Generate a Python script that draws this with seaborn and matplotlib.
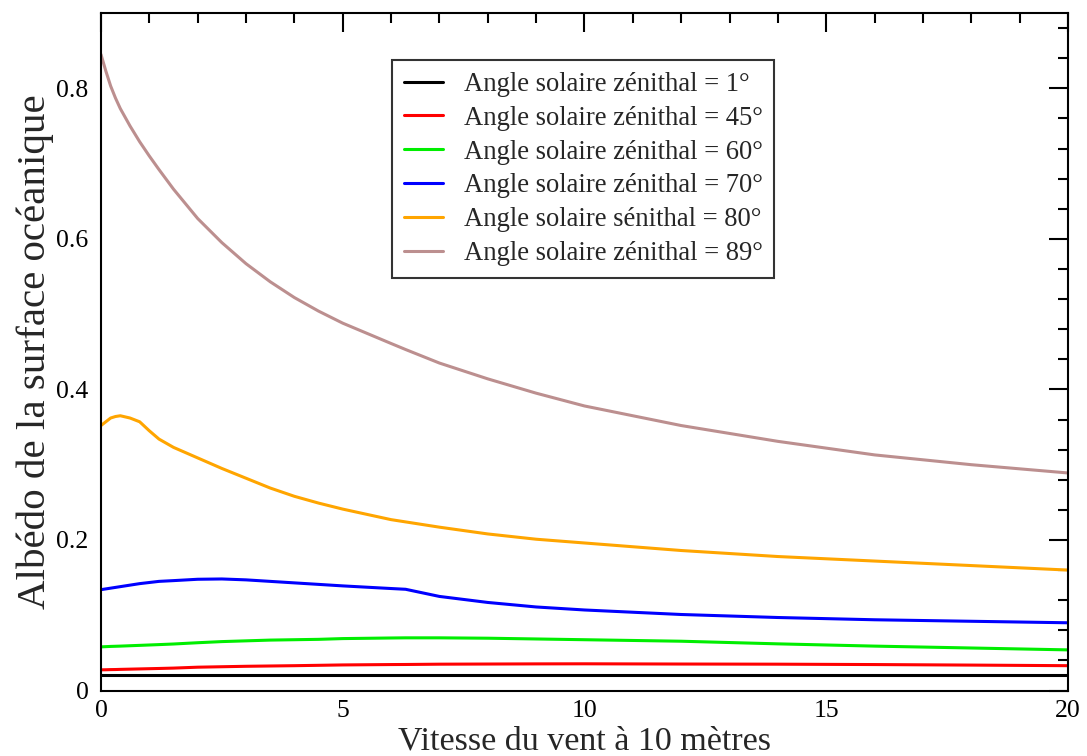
import numpy as np
import pandas as pd
import matplotlib
matplotlib.use("Agg")
import matplotlib.pyplot as plt
from matplotlib.ticker import MultipleLocator, FuncFormatter
import seaborn as sns

# ---- data ----
wind = [0, 0.1, 0.2, 0.3, 0.4, 0.6, 0.8, 1.0, 1.2, 1.5, 2, 2.5, 3, 3.5, 4, 4.5, 5, 6, 6.3, 7, 8, 9, 10,
        12, 14, 16, 18, 20]

alb_1 = [0.021] * len(wind)
alb_45 = [0.0275, 0.0276, 0.0278, 0.0279, 0.0281, 0.0284, 0.0287, 0.029, 0.0293, 0.0298, 0.031, 0.0316,
          0.0322, 0.0326, 0.033, 0.0335, 0.034, 0.0345, 0.0346, 0.035, 0.0352, 0.0354, 0.0355,
          0.0352, 0.035, 0.0345, 0.0338, 0.033]
alb_60 = [0.058, 0.0583, 0.0586, 0.0588, 0.059, 0.0595, 0.060, 0.0605, 0.061, 0.0618, 0.0635, 0.065,
          0.066, 0.067, 0.0675, 0.068, 0.069, 0.0698, 0.070, 0.070, 0.0695, 0.0685, 0.0675,
          0.0655, 0.062, 0.059, 0.0565, 0.054]
alb_70 = [0.134, 0.135, 0.136, 0.137, 0.138, 0.140, 0.142, 0.1435, 0.145, 0.146, 0.1478, 0.1482,
          0.147, 0.145, 0.143, 0.141, 0.139, 0.1355, 0.1345, 0.125, 0.117, 0.111, 0.107,
          0.101, 0.097, 0.094, 0.092, 0.090]
alb_80 = [0.352, 0.357, 0.362, 0.364, 0.365, 0.362, 0.357, 0.345, 0.334, 0.323, 0.309, 0.295,
          0.282, 0.269, 0.258, 0.249, 0.241, 0.227, 0.224, 0.217, 0.208, 0.201, 0.196,
          0.186, 0.178, 0.172, 0.166, 0.160]
alb_89 = [0.845, 0.823, 0.803, 0.787, 0.773, 0.750, 0.729, 0.710, 0.692, 0.666, 0.627, 0.595,
          0.567, 0.543, 0.522, 0.504, 0.488, 0.461, 0.453, 0.435, 0.414, 0.395, 0.378,
          0.352, 0.331, 0.313, 0.300, 0.289]

labels = ["Angle solaire zénithal = 1°", "Angle solaire zénithal = 45°", "Angle solaire zénithal = 60°",
          "Angle solaire zénithal = 70°", "Angle solaire sénithal = 80°", "Angle solaire zénithal = 89°"]
colors = ["#000000", "#ff0000", "#00ee00", "#0000ff", "#ffa500", "#bc8f8f"]
series = [alb_1, alb_45, alb_60, alb_70, alb_80, alb_89]

xticks = [0, 5, 10, 15, 20]
yticks = [0, 0.2, 0.4, 0.6, 0.8]

# ---- build long-form table ----
rows = []
for lab, vals in zip(labels, series):
    for x, v in zip(wind, vals):
        rows.append({"wind": x, "albedo": v, "serie": lab})
df = pd.DataFrame(rows)

sns.set_theme(style="white")
plt.rcParams["font.family"] = ["Liberation Serif", "DejaVu Serif"]

fig = plt.figure(figsize=(10.87, 7.56), dpi=100)
ax = fig.add_axes([0.0929, 0.0866, 0.8896, 0.8962])

sns.lineplot(data=df, x="wind", y="albedo", hue="serie", hue_order=labels,
             palette=dict(zip(labels, colors)), linewidth=2.2, ax=ax, legend=True,
             sort=False, estimator=None)
for ln in ax.get_lines():
    ln.set_solid_joinstyle("round")

ax.set_xlim(0, 20)
ax.set_ylim(0, 0.9)
ax.set_xticks(xticks)
ax.set_yticks(yticks)
ax.xaxis.set_minor_locator(MultipleLocator(1))
ax.yaxis.set_minor_locator(MultipleLocator(0.04))
ax.xaxis.set_major_formatter(FuncFormatter(lambda v, p: "%d" % v))
ax.yaxis.set_major_formatter(FuncFormatter(lambda v, p: "0" if abs(v) < 1e-9 else "%.1f" % v))

ax.tick_params(which="both", direction="in", top=True, right=True, colors="black", width=1.5)
ax.tick_params(which="major", length=14, labelsize=18.5)
ax.tick_params(which="minor", length=7)
ax.tick_params(axis="y", which="major", pad=9)
ax.tick_params(axis="x", which="major", pad=7)

for s in ax.spines.values():
    s.set_color("black")
    s.set_linewidth(1.5)

ax.set_xlabel("Vitesse du vent à 10 mètres", fontsize=24.5, labelpad=3)
ax.set_ylabel("Albédo de la surface océanique", fontsize=29.5, labelpad=1.5)

leg = ax.legend(loc="upper left", bbox_to_anchor=(0.301, 0.9306), borderaxespad=0,
                fontsize=19.2, frameon=True, fancybox=False, edgecolor="black",
                handlelength=1.45, handletextpad=0.78, borderpad=0.45, labelspacing=0.33,
                title=None)
leg.get_frame().set_linewidth(1.5)
for line in leg.get_lines():
    line.set_linewidth(2.2)

fig.savefig("out.png", dpi=100)
